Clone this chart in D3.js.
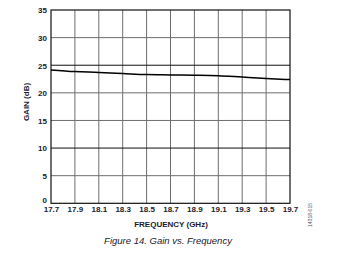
<!DOCTYPE html>
<html>
<head>
<meta charset="utf-8">
<script src="https://cdn.jsdelivr.net/npm/d3@7"></script>
<style>
  body { margin: 0; background: #fff; }
  text { font-family: "Liberation Sans", Arial, sans-serif; }
</style>
</head>
<body>
<div id="main"></div>
<script>
// data
var freq = [17.7, 17.9, 18.1, 18.3, 18.5, 18.7, 18.9, 19.1, 19.3, 19.5, 19.7];
var gain = [24.15, 23.85, 23.7, 23.5, 23.3, 23.25, 23.2, 23.1, 22.85, 22.6, 22.4];
var yTicks = [0, 5, 10, 15, 20, 25, 30, 35];
var xTicks = [17.7, 17.9, 18.1, 18.3, 18.5, 18.7, 18.9, 19.1, 19.3, 19.5, 19.7];
var darkLines = [10, 25];

var width = 351, height = 264;
var plotLeft = 51, plotRight = 290, plotTop = 10, plotBottom = 203.3;

var svg = d3.select('#main').append('svg').attr('width', width).attr('height', height);

var x = d3.scaleLinear().domain([17.7, 19.7]).range([plotLeft, plotRight]);
var y = d3.scaleLinear().domain([0, 35]).range([plotBottom, plotTop]);

// grid
svg.selectAll('.vgrid')
  .data(xTicks.slice(1, -1))
  .enter()
  .append('line')
  .attr('x1', function (d) { return x(d); })
  .attr('x2', function (d) { return x(d); })
  .attr('y1', plotTop)
  .attr('y2', plotBottom)
  .attr('stroke', '#6e6e6e')
  .attr('stroke-width', 1);

svg.selectAll('.hgrid')
  .data(yTicks.slice(1, -1))
  .enter()
  .append('line')
  .attr('x1', plotLeft)
  .attr('x2', plotRight)
  .attr('y1', function (d) { return y(d); })
  .attr('y2', function (d) { return y(d); })
  .attr('stroke', function (d) { return darkLines.indexOf(d) >= 0 ? '#111' : '#6e6e6e'; })
  .attr('stroke-width', 1);

// frame
svg.append('rect')
  .attr('x', plotLeft).attr('y', plotTop)
  .attr('width', plotRight - plotLeft).attr('height', plotBottom - plotTop)
  .attr('fill', 'none').attr('stroke', '#111').attr('stroke-width', 1.2);

// axes (ticks only as labels)
var yAxis = svg.append('g')
  .attr('transform', 'translate(' + plotLeft + ',0)')
  .call(d3.axisLeft(y).tickValues(yTicks).tickSize(0).tickPadding(4));
var xAxis = svg.append('g')
  .attr('transform', 'translate(0,' + plotBottom + ')')
  .call(d3.axisBottom(x).tickValues(xTicks).tickSize(0).tickPadding(3).tickFormat(d3.format('.1f')));

[yAxis, xAxis].forEach(function (g) {
  g.select('.domain').remove();
  g.selectAll('text')
    .attr('font-family', '"Liberation Sans", Arial, sans-serif')
    .attr('font-size', 8)
    .attr('font-weight', 'bold')
    .attr('fill', '#1a1a2e');
});
yAxis.selectAll('text').attr('dy', '0.35em');
yAxis.selectAll('.tick').filter(function (d) { return d === 0; }).select('text').attr('dy', '-0.1em');

// gain line
var line = d3.line()
  .x(function (d, i) { return x(freq[i]); })
  .y(function (d) { return y(d); })
  .curve(d3.curveMonotoneX);

svg.append('path')
  .datum(gain)
  .attr('d', line)
  .attr('fill', 'none')
  .attr('stroke', '#000')
  .attr('stroke-width', 1.5);

// labels
svg.append('text')
  .attr('transform', 'translate(29,102) rotate(-90)')
  .attr('text-anchor', 'middle')
  .attr('font-size', 8)
  .attr('font-weight', 'bold')
  .attr('fill', '#1a1a2e')
  .text('GAIN (dB)');

svg.append('text')
  .attr('x', 171).attr('y', 227)
  .attr('text-anchor', 'middle')
  .attr('font-size', 8)
  .attr('font-weight', 'bold')
  .attr('fill', '#1a1a2e')
  .text('FREQUENCY (GHz)');

svg.append('text')
  .attr('x', 168).attr('y', 244)
  .attr('text-anchor', 'middle')
  .attr('font-size', 9.5)
  .attr('font-style', 'italic')
  .attr('fill', '#1a1a2e')
  .text('Figure 14. Gain vs. Frequency');

svg.append('text')
  .attr('transform', 'translate(312,215) rotate(-90)')
  .attr('text-anchor', 'middle')
  .attr('font-size', 5)
  .attr('fill', '#555')
  .text('14318-015');
</script>
</body>
</html>
